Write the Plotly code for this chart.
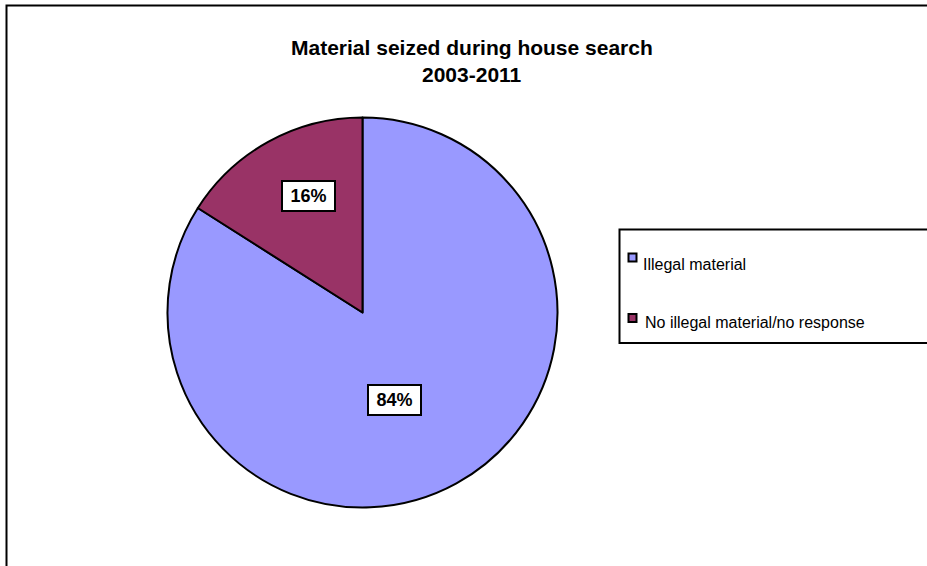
import plotly.graph_objects as go

# Data
labels = ["Illegal material", "No illegal material/no response"]
values = [84, 16]
colors = ["#9999FF", "#993366"]
title_lines = ["Material seized during house search", "2003-2011"]

W, H = 927, 566
FONT = "Liberation Sans, Arial, sans-serif"


def px(x):
    return x / W


def py(y):
    return (H - y) / H


# pie circle: centre and radius in pixels
cx, cy, r = 362.5, 312.5, 195

fig = go.Figure(
    go.Pie(
        labels=labels,
        values=values,
        marker=dict(colors=colors, line=dict(color="black", width=2)),
        sort=False,
        direction="clockwise",
        rotation=0,
        textinfo="none",
        hoverinfo="label+percent",
        showlegend=False,
        domain=dict(x=[px(cx - r), px(cx + r)], y=[py(cy + r), py(cy - r)]),
    )
)

total = sum(values)
pcts = [f"{round(v / total * 100)}%" for v in values]

# data labels in bordered boxes
label_pos = [(394, 400.5), (308.5, 195.5)]
annotations = []
for (lx, ly), t in zip(label_pos, pcts):
    annotations.append(dict(
        x=px(lx), y=py(ly), xref="paper", yref="paper",
        text=f"<b>{t}</b>", showarrow=False,
        font=dict(family=FONT, size=18, color="black"),
        bgcolor="white", bordercolor="black", borderwidth=2, borderpad=0,
        width=51, height=28, xanchor="center", yanchor="middle",
    ))

# title, two centred lines
for line, ty in zip(title_lines, [47.5, 74]):
    annotations.append(dict(
        x=px(472), y=py(ty), xref="paper", yref="paper",
        text=f"<b>{line}</b>", showarrow=False,
        font=dict(family=FONT, size=21, color="black"),
        xanchor="center", yanchor="middle",
    ))

shapes = [
    # outer chart frame
    dict(type="rect", xref="paper", yref="paper",
         x0=px(6.5), x1=px(W + 20), y0=py(H + 20), y1=py(5.5),
         line=dict(color="black", width=2), fillcolor="rgba(0,0,0,0)"),
    # legend box
    dict(type="rect", xref="paper", yref="paper",
         x0=px(619.5), x1=px(W + 20), y0=py(343), y1=py(229.5),
         line=dict(color="black", width=2), fillcolor="white"),
]

# legend entries: marker square + label
marker_top = [253.5, 314]
text_mid = [264, 322]
text_x = [641, 643]
for lab, col, mt, tm, tx in zip(labels, colors, marker_top, text_mid, text_x):
    shapes.append(dict(type="rect", xref="paper", yref="paper",
                       x0=px(628.5), x1=px(636.5), y0=py(mt + 8), y1=py(mt),
                       line=dict(color="black", width=2), fillcolor=col))
    annotations.append(dict(
        x=px(tx), y=py(tm), xref="paper", yref="paper",
        text=lab, showarrow=False,
        font=dict(family=FONT, size=16, color="black"),
        xanchor="left", yanchor="middle",
    ))

fig.update_layout(
    width=W, height=H, autosize=False,
    margin=dict(l=0, r=0, t=0, b=0),
    paper_bgcolor="white", plot_bgcolor="white",
    annotations=annotations, shapes=shapes,
)

fig.write_html("out.html")
